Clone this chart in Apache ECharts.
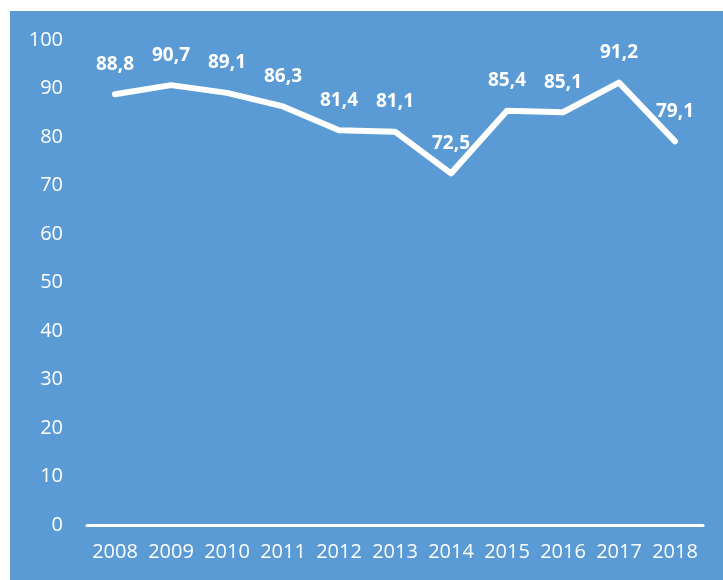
<!DOCTYPE html>
<html>
<head>
<meta charset="utf-8">
<script src="https://cdn.jsdelivr.net/npm/echarts@6/dist/echarts.min.js"></script>
<style>
html, body { margin: 0; padding: 0; background: #fff; }
#main { width: 723px; height: 580px; }
</style>
</head>
<body>
<div id="main"></div>
<script>
var years = ['2008', '2009', '2010', '2011', '2012', '2013', '2014', '2015', '2016', '2017', '2018'];
var values = [88.8, 90.7, 89.1, 86.3, 81.4, 81.1, 72.5, 85.4, 85.1, 91.2, 79.1];
var yTicks = [0, 10, 20, 30, 40, 50, 60, 70, 80, 90, 100];

var myChart = echarts.init(document.getElementById('main'));

var option = {
    animation: false,
    textStyle: { fontFamily: 'Open Sans' },
    graphic: [{
        type: 'rect',
        z: -10,
        shape: { x: 10, y: 11, width: 713, height: 569 },
        style: { fill: '#5b9bd5' }
    }],
    grid: { left: 87, right: 20, top: 40, bottom: 55 },
    xAxis: {
        type: 'category',
        data: years,
        axisLine: { lineStyle: { color: '#fff', width: 3 } },
        axisTick: { show: false },
        axisLabel: { color: '#fff', fontSize: 20, margin: 17, interval: 0 }
    },
    yAxis: {
        type: 'value',
        min: yTicks[0],
        max: yTicks[yTicks.length - 1],
        interval: 10,
        splitLine: { show: false },
        axisLine: { show: false },
        axisLabel: { color: '#fff', fontSize: 20, margin: 24 }
    },
    series: [{
        type: 'line',
        data: values,
        symbol: 'circle',
        symbolSize: 1,
        itemStyle: { color: '#fff' },
        lineStyle: { color: '#fff', width: 6, cap: 'round', join: 'round' },
        label: {
            show: true,
            position: 'top',
            distance: 20,
            color: '#fff',
            fontSize: 19,
            fontWeight: 'bold',
            formatter: function (p) { return p.value.toFixed(1).replace('.', ','); }
        }
    }]
};

myChart.setOption(option);
</script>
</body>
</html>
